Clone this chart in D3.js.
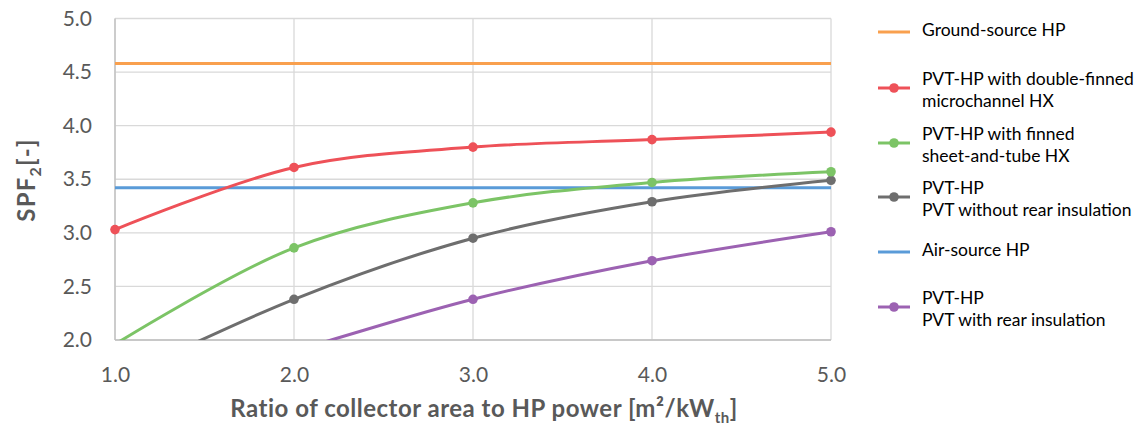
<!DOCTYPE html>
<html><head><meta charset="utf-8">
<script src="https://cdn.jsdelivr.net/npm/d3@7"></script>
<style>body{margin:0;background:#fff;} svg{display:block;font-family:Lato,"Open Sans",sans-serif;}</style>
</head><body>
<script>
const xValues = [1, 2, 3, 4, 5];
const groundSource = [4.58, 4.58, 4.58, 4.58, 4.58];
const airSource = [3.42, 3.42, 3.42, 3.42, 3.42];
const doubleFinned = [3.03, 3.61, 3.80, 3.87, 3.94];
const finnedSheet = [1.96, 2.86, 3.28, 3.47, 3.57];
const withoutInsul = [1.62, 2.38, 2.95, 3.29, 3.49];
const withInsul = [1.45, 1.90, 2.38, 2.74, 3.01];
const yTicks = [2.0, 2.5, 3.0, 3.5, 4.0, 4.5, 5.0];
const xTicks = [1, 2, 3, 4, 5];

const series = [
  {name: ["Ground-source HP"], values: groundSource, color: "#F9A04E", markers: false, smooth: false, ly: 32},
  {name: ["PVT-HP with double-finned", "microchannel HX"], values: doubleFinned, color: "#EE5158", markers: true, smooth: true, ly: 88},
  {name: ["PVT-HP with finned", "sheet-and-tube HX"], values: finnedSheet, color: "#7CC466", markers: true, smooth: true, ly: 143},
  {name: ["PVT-HP", "PVT without rear insulation"], values: withoutInsul, color: "#6E6E6E", markers: true, smooth: true, ly: 197},
  {name: ["Air-source HP"], values: airSource, color: "#5A9BD8", markers: false, smooth: false, ly: 252},
  {name: ["PVT-HP", "PVT with rear insulation"], values: withInsul, color: "#9C62B2", markers: true, smooth: true, ly: 307}
];
const drawOrder = [0, 4, 5, 3, 2, 1];

const W = 1138, H = 429;
const m = {l: 115, r: 831, t: 18.5, b: 340};
const svg = d3.select("body").append("svg").attr("width", W).attr("height", H);
const x = d3.scaleLinear().domain([1, 5]).range([m.l, m.r]);
const y = d3.scaleLinear().domain([2, 5]).range([m.b, m.t]);

svg.append("g").selectAll("line").data(yTicks).join("line")
  .attr("x1", m.l).attr("x2", m.r).attr("y1", d => y(d)).attr("y2", d => y(d))
  .attr("stroke", "#d9d9d9").attr("stroke-width", 1.3);
svg.append("g").selectAll("line").data(xTicks).join("line")
  .attr("x1", d => x(d)).attr("x2", d => x(d)).attr("y1", m.t).attr("y2", m.b)
  .attr("stroke", "#d9d9d9").attr("stroke-width", 1.3);
svg.append("line").attr("x1", m.l).attr("x2", m.r).attr("y1", m.b).attr("y2", m.b).attr("stroke", "#bfbfbf").attr("stroke-width", 1.3);
svg.append("line").attr("x1", m.l).attr("x2", m.l).attr("y1", m.t).attr("y2", m.b).attr("stroke", "#bfbfbf").attr("stroke-width", 1.3);

const yAxis = svg.append("g").attr("transform", `translate(${m.l - 20},0)`)
  .call(d3.axisLeft(y).tickValues(yTicks).tickFormat(d3.format(".1f")).tickSize(0));
yAxis.select(".domain").remove();
yAxis.selectAll("text").attr("font-size", 21).attr("fill", "#595959").attr("font-family", "Lato");
const xAxis = svg.append("g").attr("transform", `translate(0,${m.b + 24})`)
  .call(d3.axisBottom(x).tickValues(xTicks).tickFormat(d3.format(".1f")).tickSize(0));
xAxis.select(".domain").remove();
xAxis.selectAll("text").attr("font-size", 21).attr("fill", "#595959").attr("font-family", "Lato");

svg.append("clipPath").attr("id", "clip").append("rect")
  .attr("x", m.l - 1).attr("y", m.t - 1).attr("width", m.r - m.l + 2).attr("height", m.b - m.t + 1);

const plot = svg.append("g").attr("clip-path", "url(#clip)");
drawOrder.forEach(i => {
  const s = series[i];
  const pts = xValues.map((xv, j) => [xv, s.values[j]]);
  const line = d3.line().x(d => x(d[0])).y(d => y(d[1]))
    .curve(s.smooth ? d3.curveCatmullRom.alpha(0.5) : d3.curveLinear);
  plot.append("path").attr("d", line(pts)).attr("fill", "none")
    .attr("stroke", s.color).attr("stroke-width", 3);
});
drawOrder.forEach(i => {
  const s = series[i];
  if (!s.markers) return;
  const pts = xValues.map((xv, j) => [xv, s.values[j]]).filter(d => d[1] >= 2 && d[1] <= 5);
  svg.append("g").selectAll("circle").data(pts).join("circle")
    .attr("cx", d => x(d[0])).attr("cy", d => y(d[1])).attr("r", 4.8).attr("fill", s.color);
});

const xt = svg.append("text").attr("x", 484).attr("y", 417).attr("text-anchor", "middle")
  .attr("font-size", 24).attr("font-weight", "bold").attr("fill", "#595959").attr("letter-spacing", 0.5);
xt.append("tspan").text("Ratio of collector area to HP power [m²/kW");
xt.append("tspan").text("th").attr("font-size", 15).attr("dy", 6);
xt.append("tspan").text("]").attr("dy", -6);

const yt = svg.append("text").attr("transform", "translate(35,180) rotate(-90)").attr("text-anchor", "middle")
  .attr("font-size", 24).attr("font-weight", "bold").attr("fill", "#595959").attr("letter-spacing", 1.2);
yt.append("tspan").text("SPF");
yt.append("tspan").text("2").attr("font-size", 16).attr("dy", 6);
yt.append("tspan").text("[-]").attr("dy", -6);

const lg = svg.append("g");
series.forEach(s => {
  const g = lg.append("g");
  g.append("line").attr("x1", 878).attr("x2", 910).attr("y1", s.ly).attr("y2", s.ly)
    .attr("stroke", s.color).attr("stroke-width", 3);
  if (s.markers) g.append("circle").attr("cx", 894).attr("cy", s.ly).attr("r", 4.8).attr("fill", s.color);
  const n = s.name.length;
  s.name.forEach((t, k) => {
    const off = n === 1 ? -2 : (k === 0 ? -9 : 13);
    g.append("text").attr("x", 922).attr("y", s.ly + off).attr("dy", "0.35em")
      .attr("font-size", 17.5).attr("fill", "#000").text(t);
  });
});
</script>
</body></html>
